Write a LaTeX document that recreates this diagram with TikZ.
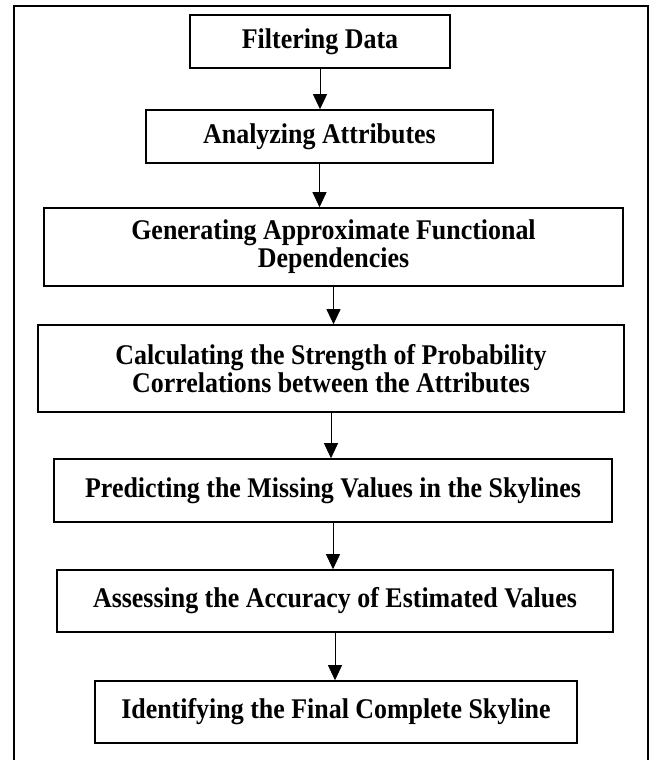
\documentclass[tikz,border=0pt]{standalone}
\usepackage{fontspec}
\setmainfont[FakeStretch=0.91]{Liberation Serif}
\usetikzlibrary{arrows.meta}

\begin{document}
\begin{tikzpicture}[x=1pt,y=-1pt,
    stepbox/.style={draw,line width=1.6pt,align=center,inner sep=0pt,
      font=\fontsize{28.5}{28}\selectfont\bfseries},
    flow/.style={-{Triangle[width=14pt,length=15pt]},line width=0.8pt}]
    \useasboundingbox (0,0) rectangle (656,760);
    % outer frame, open at the bottom
    \draw[line width=1.6pt] (14,760) -- (14,6) -- (648,6) -- (648,760);
    \node[stepbox,minimum width=260pt,minimum height=53pt] (filter) at (320,41.5) {Filtering Data};
    \node[stepbox,minimum width=347pt,minimum height=53pt] (attr) at (319.5,136.5) {Analyzing Attributes};
    \node[stepbox,minimum width=579pt,minimum height=78pt] (afd) at (333.5,247) {Generating Approximate Functional\\Dependencies};
    \node[stepbox,minimum width=586pt,minimum height=87pt] (corr) at (331,368.5) {Calculating the Strength of Probability\\Correlations between the Attributes};
    \node[stepbox,minimum width=558pt,minimum height=63pt] (predict) at (333,490.5) {Predicting the Missing Values in the Skylines};
    \node[stepbox,minimum width=556pt,minimum height=62pt] (assess) at (335,601) {Assessing the Accuracy of Estimated Values};
    \node[stepbox,minimum width=482pt,minimum height=62pt] (final) at (336,712) {Identifying the Final Complete Skyline};
    \foreach \a/\b in {filter/attr,attr/afd,afd/corr,corr/predict,predict/assess,assess/final}
      \draw[flow] (\a.south) -- (\a.south |- \b.north);
\end{tikzpicture}
\end{document}
